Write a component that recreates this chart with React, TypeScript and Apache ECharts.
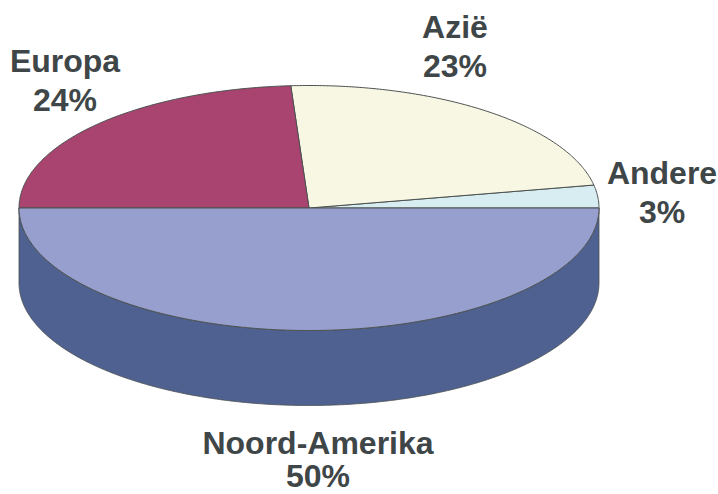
import React, { useEffect, useRef } from "react";
import * as echarts from "echarts";

// Market shares per region, counter-clockwise from the right-hand edge of the disc.
const regions = ["Andere", "Azië", "Europa", "Noord-Amerika"];
const shares = [3, 23, 24, 50];

const topColors = ["#d8edf1", "#f7f7e3", "#a8446f", "#979fcf"];
const wallColors = ["#4f6190", "#4f6190", "#4f6190", "#4f6190"];
const labelCenters: [number, number][] = [
  [662, 192],
  [455, 46],
  [65, 80],
  [318, 459],
];
const labelLineHeights = [39, 39, 39, 33];

const CX = 309;
const CY = 208;
const RX = 290;
const RY = 122.5;
const DEPTH = 75;
const OUTLINE = "#4b5150";

function arc(from: number, to: number, dy = 0): number[][] {
  const steps = Math.max(2, Math.ceil(Math.abs(to - from) / 0.01));
  const pts: number[][] = [];
  for (let i = 0; i <= steps; i++) {
    const a = from + ((to - from) * i) / steps;
    pts.push([CX + RX * Math.cos(a), CY - RY * Math.sin(a) + dy]);
  }
  return pts;
}

export default function App() {
  const ref = useRef<HTMLDivElement>(null);

  useEffect(() => {
    document.body.style.margin = "0";
    const chart = echarts.init(ref.current!, undefined, { renderer: "svg" });
    const total = shares.reduce((s, v) => s + v, 0);

    const renderItem = (params: any, api: any) => {
      const i = params.dataIndex;
      const value = api.value(0);
      const before = shares.slice(0, i).reduce((s, v) => s + v, 0);
      const start = (before / total) * Math.PI * 2;
      const end = start + (value / total) * Math.PI * 2;
      const children: any[] = [];

      // The wall shows only where the slice lies on the near half of the disc.
      const wallFrom = Math.max(start, Math.PI);
      const wallTo = Math.min(end, Math.PI * 2);
      if (wallTo > wallFrom) {
        children.push({
          type: "polygon",
          shape: {
            points: [...arc(wallFrom, wallTo), ...arc(wallTo, wallFrom, DEPTH)],
          },
          style: { fill: wallColors[i], stroke: OUTLINE, lineWidth: 0.8 },
        });
      }

      children.push({
        type: "polygon",
        shape: { points: [[CX, CY], ...arc(start, end)] },
        style: { fill: topColors[i], stroke: OUTLINE, lineWidth: 1 },
      });

      const [lx, ly] = labelCenters[i];
      children.push({
        type: "text",
        z2: 10,
        style: {
          text: `${regions[i]}\n${value}%`,
          x: lx,
          y: ly,
          align: "center",
          verticalAlign: "middle",
          fontFamily: "Liberation Sans",
          fontWeight: "bold",
          fontSize: 32,
          lineHeight: labelLineHeights[i],
          fill: "#3f4648",
        },
      });

      return { type: "group", children };
    };

    chart.setOption({
      animation: false,
      backgroundColor: "#ffffff",
      series: [
        {
          type: "custom",
          coordinateSystem: "none",
          silent: true,
          renderItem,
          data: shares.map((v, i) => ({ name: regions[i], value: [v] })),
        },
      ],
    });

    return () => chart.dispose();
  }, []);

  return <div ref={ref} style={{ width: 718, height: 494 }} />;
}
